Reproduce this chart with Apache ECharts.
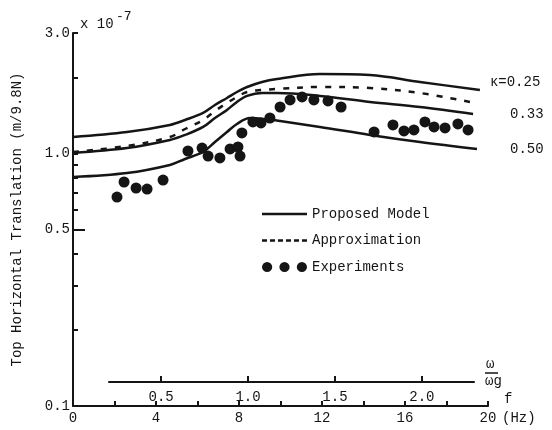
<!DOCTYPE html>
<html><head><meta charset="utf-8">
<script src="https://cdn.jsdelivr.net/npm/echarts@6/dist/echarts.min.js"></script>
<style>html,body{margin:0;padding:0;background:#fff}#c{width:552px;height:430px}</style>
</head><body><div id="c"></div>
<script>
const FONT = '"Liberation Mono", "DejaVu Sans Mono", monospace';
const INK = '#151515';

// frequency f (Hz) and top horizontal translation (x 1e-7 m/9.8N)
const freqK025 = [0, 2.60, 4.67, 5.40, 6.27, 6.84, 7.42, 7.90, 8.39, 9.11, 9.83, 11.90, 14.31, 16.72, 19.61];
const valK025  = [1.162, 1.216, 1.297, 1.357, 1.447, 1.556, 1.659, 1.752, 1.834, 1.920, 1.972, 2.065, 2.046, 1.920, 1.784];

const freqK033 = [0, 2.60, 4.67, 5.40, 6.27, 6.84, 7.42, 7.90, 8.39, 9.11, 9.83, 11.90, 14.31, 16.72, 19.28];
const valK033  = [1.005, 1.051, 1.131, 1.184, 1.274, 1.382, 1.487, 1.600, 1.690, 1.736, 1.736, 1.690, 1.600, 1.528, 1.433];

const freqK050 = [0, 2.60, 4.67, 5.40, 6.27, 6.84, 7.42, 7.90, 8.53, 9.25, 9.98, 11.90, 14.31, 16.72, 19.47];
const valK050  = [0.807, 0.837, 0.901, 0.951, 1.014, 1.110, 1.216, 1.309, 1.382, 1.369, 1.345, 1.274, 1.184, 1.110, 1.042];

const freqApprox = [0, 2.60, 4.67, 5.40, 6.27, 6.84, 7.42, 7.90, 8.39, 9.11, 9.83, 11.90, 14.31, 16.72, 19.13];
const valApprox  = [1.014, 1.071, 1.162, 1.250, 1.357, 1.473, 1.585, 1.674, 1.752, 1.784, 1.801, 1.834, 1.817, 1.736, 1.600];

const freqExp = [2.12, 2.46, 3.04, 3.57, 4.34, 5.54, 6.22, 6.51, 7.08, 7.57, 7.95, 8.05, 8.14, 8.67, 9.06, 9.49,
                 9.98, 10.46, 11.04, 11.61, 12.29, 12.92, 14.51, 15.42, 15.95, 16.43, 16.96, 17.40, 17.93, 18.55, 19.04];
const valExp  = [0.672, 0.771, 0.730, 0.723, 0.785, 1.023, 1.051, 0.977, 0.960, 1.042, 1.061, 0.977, 1.206, 1.333, 1.321, 1.382,
                 1.528, 1.629, 1.674, 1.629, 1.614, 1.528, 1.217, 1.297, 1.228, 1.239, 1.333, 1.274, 1.262, 1.309, 1.239];

const kappaLabels = ['κ=0.25', '0.33', '0.50'];
const xTickLabels = [0, 4, 8, 12, 16, 20];
const xTicks = [2, 4, 6, 8, 10, 12, 14, 16, 18, 20];
const yTickLabels = [0.1, 0.5, 1.0, 3.0];
const yTicks = [0.2, 0.3, 0.4, 0.5, 0.6, 0.7, 0.8, 0.9, 1.0, 2.0, 3.0];
const ratioTickLabels = [0.5, 1.0, 1.5, 2.0];

const lg = Math.log10;
const pts = (fs, vs) => fs.map((f, i) => [f, lg(vs[i])]);
const txt = { fontFamily: FONT, fontSize: 14, color: INK };

function curve(name, fs, vs, label, dist, dy, dashed) {
  return {
    name, type: 'line', xAxisIndex: 0, yAxisIndex: 0,
    data: pts(fs, vs), smooth: 0.35, symbol: 'none', color: INK,
    itemStyle: { color: INK },
    lineStyle: { color: INK, width: 2.5, type: dashed ? [6, 8] : 'solid' },
    endLabel: label ? Object.assign({ show: true, formatter: label, distance: dist, offset: [0, dy] }, txt) : { show: false },
    z: 3
  };
}

const chart = echarts.init(document.getElementById('c'), null, { renderer: 'canvas' });
chart.setOption({
  animation: false,
  backgroundColor: '#fff',
  grid: [
    { left: 73, right: 64, top: 33, bottom: 24 },
    { left: 109, right: 78, top: 362, height: 20 }
  ],
  xAxis: [
    {
      gridIndex: 0, type: 'value', min: 0, max: 20,
      axisLine: { onZero: false, lineStyle: { color: INK, width: 2 } },
      axisTick: { inside: true, length: 5, customValues: xTicks, lineStyle: { color: INK, width: 2 } },
      axisLabel: Object.assign({ customValues: xTickLabels, margin: 5 }, txt),
      splitLine: { show: false },
      name: 'f', nameLocation: 'end', nameGap: 16,
      nameTextStyle: Object.assign({ verticalAlign: 'bottom' }, txt)
    },
    {
      // ω/ωg scale: line and labels
      gridIndex: 1, type: 'value', min: 0.2, max: 2.3,
      axisLine: { show: true, onZero: false, lineStyle: { color: INK, width: 2 } },
      axisTick: { show: false },
      axisLabel: Object.assign({ show: true, customValues: ratioTickLabels, margin: 8, formatter: v => v.toFixed(1) }, txt),
      splitLine: { show: false }
    },
    {
      // ω/ωg scale: ticks (same scale, laid over the main plot and raised onto the ω/ωg line)
      gridIndex: 0, type: 'value', min: -0.00713, max: 2.3805, position: 'bottom', offset: -24,
      axisLine: { show: false, onZero: false },
      axisTick: { show: true, inside: true, length: 6, customValues: ratioTickLabels, lineStyle: { color: INK, width: 2 } },
      axisLabel: { show: false },
      splitLine: { show: false }
    }
  ],
  yAxis: [
    {
      gridIndex: 0, type: 'value', min: -1, max: lg(3),
      axisLine: { show: true, onZero: false, lineStyle: { color: INK, width: 2 } },
      axisTick: { show: true, inside: true, length: 5, customValues: yTicks.map(lg), lineStyle: { color: INK, width: 2 } },
      axisLabel: Object.assign({ customValues: yTickLabels.map(lg), margin: 3, formatter: v => Math.pow(10, v).toFixed(1) }, txt),
      splitLine: { show: false },
      name: 'Top Horizontal Translation (m/9.8N)', nameLocation: 'middle', nameGap: 49,
      nameTextStyle: txt
    },
    {
      gridIndex: 1, type: 'value', min: 0, max: 1,
      axisLine: { show: false }, axisTick: { show: false }, axisLabel: { show: false }, splitLine: { show: false }
    },
    {
      gridIndex: 0, type: 'value', min: -1, max: lg(3), position: 'left',
      axisLine: { show: false, onZero: false },
      axisTick: { show: true, inside: true, length: 12, customValues: [lg(0.5)], lineStyle: { color: INK, width: 2 } },
      axisLabel: { show: false }, splitLine: { show: false }
    }
  ],
  legend: {
    orient: 'vertical', left: 262, top: 207, padding: 0, itemWidth: 45, itemHeight: 11, itemGap: 12.5,
    selectedMode: false, symbolKeepAspect: true,
    textStyle: Object.assign({ lineHeight: 14 }, txt),
    data: [
      { name: 'Proposed Model', icon: 'path://M0,0H45V2.5H0Z' },
      { name: 'Approximation', icon: 'path://M0,0h5v2.5h-5zM8,0h5v2.5h-5zM16,0h5v2.5h-5zM24,0h5v2.5h-5zM32,0h5v2.5h-5zM40,0h5v2.5h-5z' },
      { name: 'Experiments', icon: 'path://M0,5a5,5 0 1,0 10,0a5,5 0 1,0 -10,0zM17,5a5,5 0 1,0 10,0a5,5 0 1,0 -10,0zM34,5a5,5 0 1,0 10,0a5,5 0 1,0 -10,0z' }
    ]
  },
  graphic: [
    { type: 'text', left: 80, top: 17, style: { text: 'x 10', font: '14px ' + FONT, fill: INK } },
    { type: 'text', left: 116, top: 10, style: { text: '-7', font: '13px ' + FONT, fill: INK } },
    { type: 'text', left: 502, top: 411, style: { text: '(Hz)', font: '14px ' + FONT, fill: INK } },
    { type: 'text', left: 486, top: 357, style: { text: 'ω', font: '14px ' + FONT, fill: INK } },
    { type: 'line', shape: { x1: 485, y1: 373, x2: 498, y2: 373 }, style: { stroke: INK, lineWidth: 1.5 } },
    { type: 'text', left: 485, top: 374, style: { text: 'ωg', font: '14px ' + FONT, fill: INK } }
  ],
  series: [
    curve('Proposed Model', freqK025, valK025, kappaLabels[0], 10, -8, false),
    curve('Proposed Model', freqK033, valK033, kappaLabels[1], 37, 0, false),
    curve('Proposed Model', freqK050, valK050, kappaLabels[2], 33, 0, false),
    curve('Approximation', freqApprox, valApprox, null, 0, 0, true),
    {
      name: 'Experiments', type: 'scatter', xAxisIndex: 0, yAxisIndex: 0,
      data: pts(freqExp, valExp), symbol: 'circle', symbolSize: 11,
      itemStyle: { color: INK, opacity: 1 }, color: INK, z: 4
    }
  ]
});
</script></body></html>
